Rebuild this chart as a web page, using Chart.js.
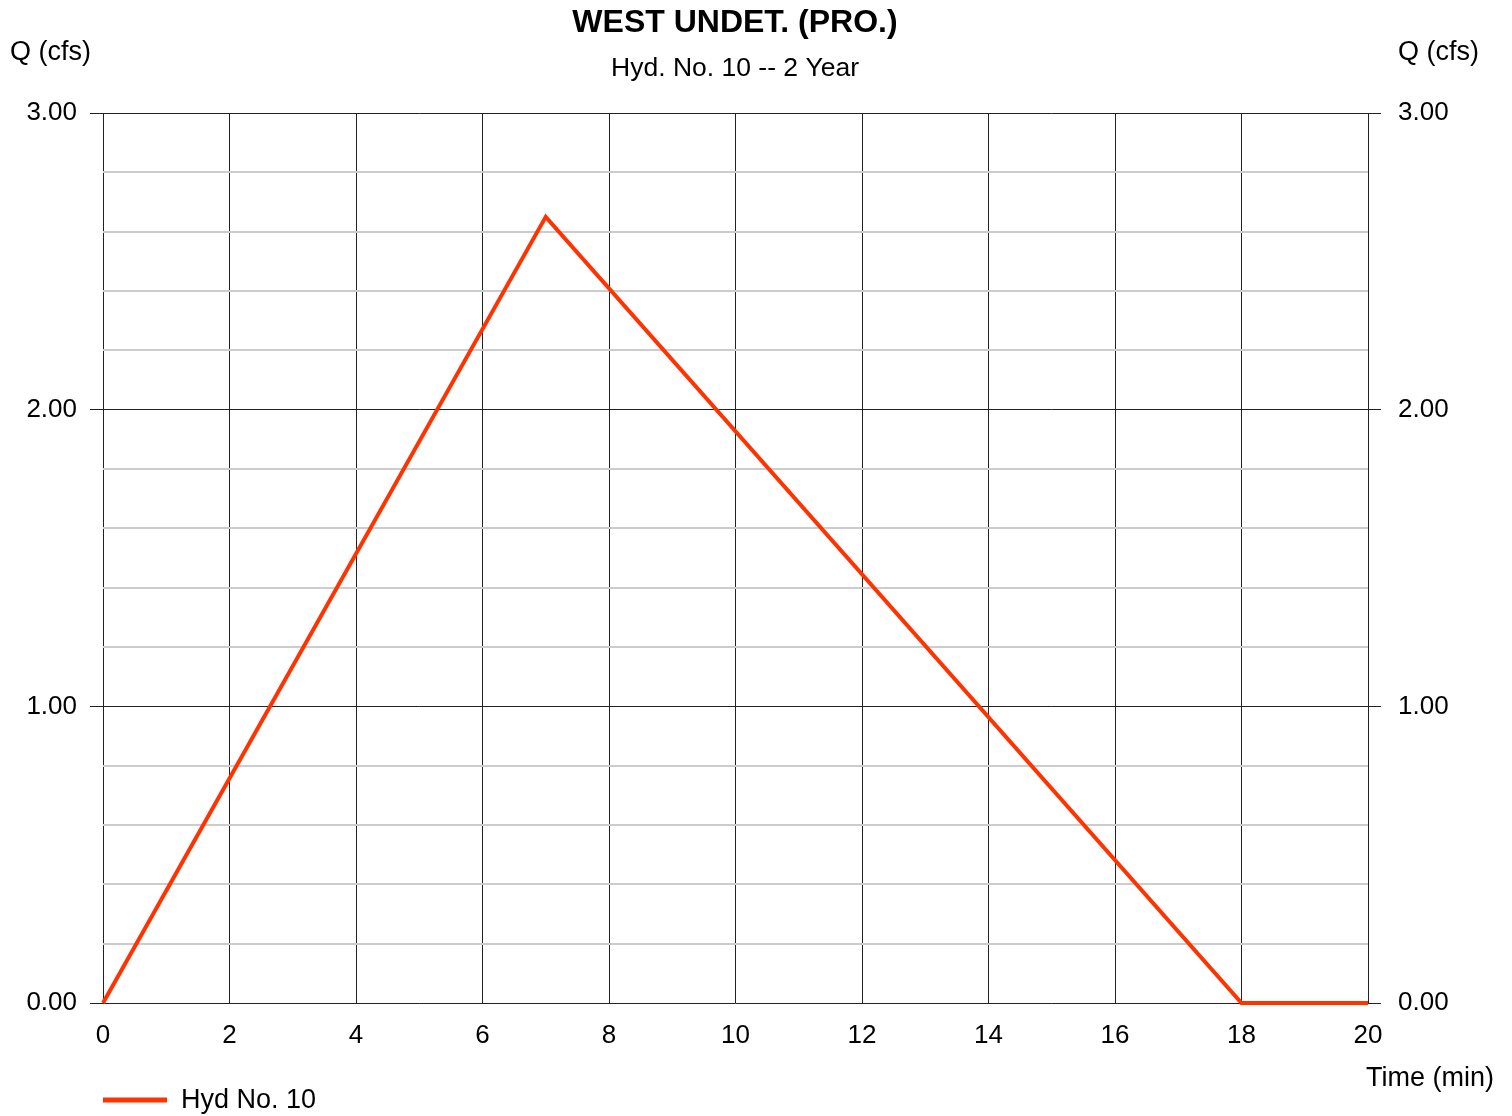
<!DOCTYPE html>
<html>
<head>
<meta charset="utf-8">
<script src="https://cdn.jsdelivr.net/npm/chart.js@4/dist/chart.umd.min.js"></script>
<style>
  html, body { margin: 0; padding: 0; background: #fff; }
  #wrap { width: 1512px; height: 1116px; }
</style>
</head>
<body>
<div id="wrap"><canvas id="chart1"></canvas></div>
<script>
// hydrograph values
var times = [0, 7, 18, 20];
var flows = [0, 2.65, 0, 0];
var titleText = "WEST UNDET. (PRO.)";
var subtitleText = "Hyd. No. 10 -- 2 Year";
var seriesName = "Hyd No. 10";
var yLabel = "Q (cfs)";
var xLabel = "Time (min)";

var lineColor = "rgb(255, 51, 0)";
var fontName = "'Liberation Sans', Arial, sans-serif";

var points = [];
for (var i = 0; i < times.length; i++) {
  points.push({x: times[i], y: flows[i]});
}

function isMajor(v) {
  return Math.abs(v - Math.round(v)) < 1e-6;
}

// texts around the plot: title, axis names, legend
var textPlugin = {
  id: "texts",
  afterDraw: function(chart) {
    var ctx = chart.ctx;
    var area = chart.chartArea;
    ctx.save();
    ctx.fillStyle = "#000";
    ctx.textBaseline = "middle";
    ctx.textAlign = "center";
    ctx.font = "bold 32px " + fontName;
    ctx.fillText(titleText, 735, 23);
    ctx.font = "26.5px " + fontName;
    ctx.fillText(subtitleText, 735, 69);

    ctx.font = "27px " + fontName;
    ctx.textAlign = "left";
    ctx.fillText(yLabel, 10, 53);
    ctx.textAlign = "right";
    ctx.fillText(yLabel, 1479, 53);
    ctx.fillText(xLabel, 1494, 1079);

    // legend
    ctx.strokeStyle = lineColor;
    ctx.lineWidth = 5;
    ctx.beginPath();
    ctx.moveTo(area.left, 1100);
    ctx.lineTo(area.left + 64, 1100);
    ctx.stroke();
    ctx.textAlign = "left";
    ctx.fillText(seriesName, 181, 1101);
    ctx.restore();
  }
};

var config1 = {
  type: "line",
  data: {
    datasets: [{
      label: seriesName,
      data: points,
      borderColor: lineColor,
      backgroundColor: lineColor,
      borderWidth: 4,
      pointRadius: 0,
      tension: 0,
      clip: false
    }]
  },
  options: {
    responsive: false,
    animation: false,
    layout: { padding: { top: 113, left: 0, right: 0, bottom: 0 } },
    plugins: {
      legend: { display: false },
      title: { display: false },
      tooltip: { enabled: false }
    },
    scales: {
      x: {
        type: "linear",
        min: 0,
        max: 20,
        border: { display: false },
        grid: { color: "#222", lineWidth: 1, drawTicks: false },
        ticks: {
          stepSize: 2,
          padding: 17,
          color: "#000",
          font: { family: fontName, size: 26 }
        },
        afterFit: function(scale) { scale.height = 113; }
      },
      y: {
        position: "left",
        min: 0,
        max: 3,
        border: { display: false },
        grid: {
          color: function(c) { return isMajor(c.tick.value) ? "#222" : "#cccccc"; },
          lineWidth: function(c) { return isMajor(c.tick.value) ? 1 : 2; },
          tickColor: function(c) { return isMajor(c.tick.value) ? "#222" : "rgba(0,0,0,0)"; },
          tickLength: 13
        },
        ticks: {
          stepSize: 0.2,
          autoSkip: false,
          padding: 13,
          color: "#000",
          font: { family: fontName, size: 26 },
          callback: function(v) { return isMajor(v) ? v.toFixed(2) : ""; }
        },
        afterFit: function(scale) { scale.width = 103; }
      },
      y2: {
        position: "right",
        min: 0,
        max: 3,
        border: { display: false },
        grid: {
          drawOnChartArea: false,
          tickColor: function(c) { return isMajor(c.tick.value) ? "#222" : "rgba(0,0,0,0)"; },
          tickLength: 13
        },
        ticks: {
          stepSize: 0.2,
          autoSkip: false,
          padding: 17,
          color: "#000",
          font: { family: fontName, size: 26 },
          callback: function(v) { return isMajor(v) ? v.toFixed(2) : ""; }
        },
        afterFit: function(scale) { scale.width = 144; }
      }
    }
  },
  plugins: [textPlugin]
};

var canvas = document.getElementById("chart1");
canvas.width = 1512;
canvas.height = 1116;
var chart1 = new Chart(canvas, config1);
</script>
</body>
</html>
